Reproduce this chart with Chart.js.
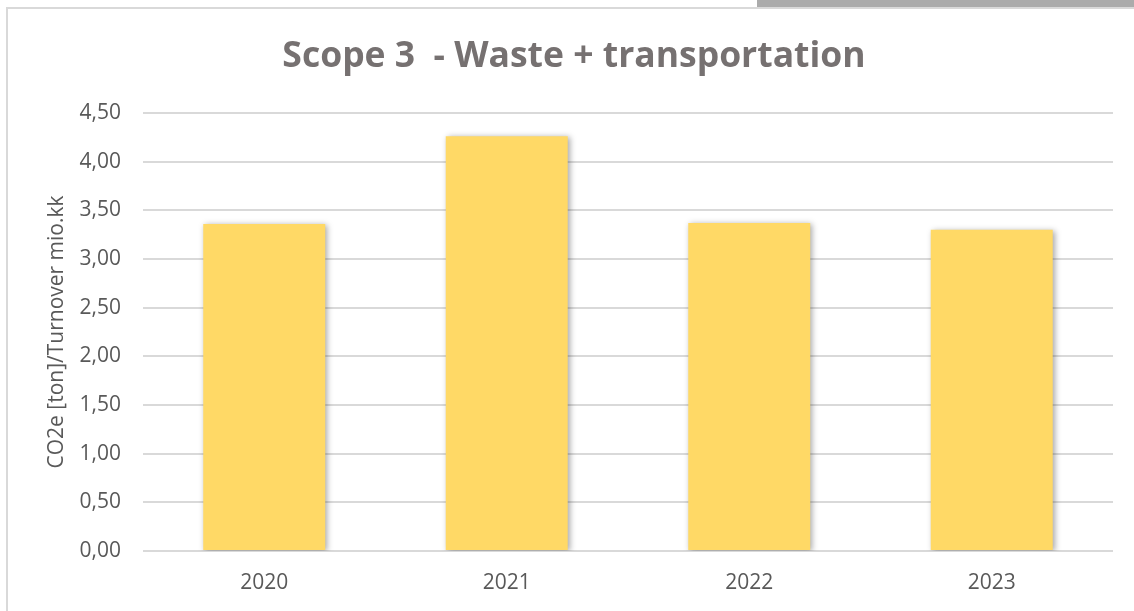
<!DOCTYPE html>
<html>
<head>
<meta charset="utf-8">
<script src="https://cdn.jsdelivr.net/npm/chart.js@4"></script>
<style>
  html, body { margin: 0; padding: 0; background: #fff; }
  #wrap { width: 1134px; height: 611px; position: relative; }
</style>
</head>
<body>
<div id="wrap"><canvas id="scopeChart" width="1134" height="611"></canvas></div>
<script>
// chart data
const years = ['2020', '2021', '2022', '2023'];
const co2PerTurnover = [3.36, 4.26, 3.37, 3.30];
const yTickValues = [0, 0.5, 1, 1.5, 2, 2.5, 3, 3.5, 4, 4.5];

const chartTitle = 'Scope 3  - Waste + transportation';
const yAxisTitle = 'CO2e [ton]/Turnover mio.kk';

const fontFamily = '"Open Sans", sans-serif';

// the light frame and the grey strip at the top right, as in the screenshot
const framePlugin = {
    id: 'frame',
    beforeDraw(chart) {
        const ctx = chart.ctx;
        ctx.save();
        ctx.fillStyle = '#ffffff';
        ctx.fillRect(0, 0, chart.width, chart.height);
        ctx.fillStyle = '#ABABAB';
        ctx.fillRect(757, 0, chart.width - 757, 7);
        ctx.strokeStyle = '#D9D9D9';
        ctx.lineWidth = 2;
        ctx.beginPath();
        ctx.moveTo(7, chart.height);
        ctx.lineTo(7, 8);
        ctx.lineTo(chart.width, 8);
        ctx.stroke();
        ctx.restore();
    }
};

// soft shadow behind the bars
const barShadow = {
    id: 'barShadow',
    beforeDatasetsDraw(chart) {
        const ctx = chart.ctx;
        ctx.save();
        ctx.shadowColor = 'rgba(0, 0, 0, 0.35)';
        ctx.shadowBlur = 6;
        ctx.shadowOffsetX = 2;
        ctx.shadowOffsetY = 1;
    },
    afterDatasetsDraw(chart) {
        chart.ctx.restore();
    }
};

const ctx = document.getElementById('scopeChart').getContext('2d');
const scopeChart = new Chart(ctx, {
    type: 'bar',
    data: {
        labels: years,
        datasets: [{
            label: chartTitle,
            data: co2PerTurnover,
            backgroundColor: '#FFD966',
            borderWidth: 0,
            categoryPercentage: 1.0,
            barPercentage: 0.503
        }]
    },
    options: {
        responsive: false,
        animation: false,
        layout: {
            padding: { top: 0, left: 35, right: 21, bottom: 0 }
        },
        plugins: {
            legend: { display: false },
            tooltip: { enabled: false },
            title: {
                display: true,
                text: chartTitle,
                color: '#767171',
                font: { family: fontFamily, size: 35.5, weight: 'bold' },
                padding: { top: 36, bottom: 34.4 }
            }
        },
        scales: {
            x: {
                grid: { display: false, drawTicks: false },
                border: { display: false },
                ticks: {
                    color: '#595959',
                    font: { family: fontFamily, size: 21 },
                    padding: 19
                },
                afterFit(scale) { scale.height = 60; }
            },
            y: {
                min: 0,
                max: 4.5,
                afterBuildTicks(scale) {
                    scale.ticks = yTickValues.map(v => ({ value: v }));
                },
                grid: { color: '#D9D9D9', lineWidth: 2, drawTicks: false },
                border: { display: false },
                ticks: {
                    color: '#595959',
                    font: { family: fontFamily, size: 21 },
                    padding: 22,
                    callback: (v) => Number(v).toFixed(2).replace('.', ',')
                },
                title: {
                    display: true,
                    text: yAxisTitle,
                    color: '#595959',
                    font: { family: fontFamily, size: 21 },
                    padding: { top: 9, bottom: 0 }
                },
                afterFit(scale) { scale.width = 108; }
            }
        }
    },
    plugins: [framePlugin, barShadow]
});
</script>
</body>
</html>
